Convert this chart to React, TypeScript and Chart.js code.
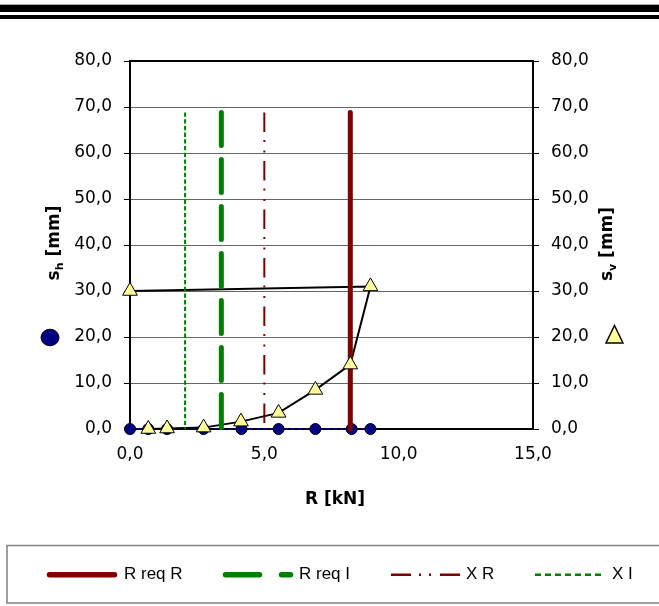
import { useEffect, useRef } from 'react';
import { Chart, registerables } from 'chart.js';
Chart.register(...registerables);

// ---- data ----
const R_H = [0, 0.68, 1.38, 2.74, 4.15, 5.53, 6.9, 8.25, 8.95];
const S_H = [0, 0, 0, 0, 0, 0, 0, 0, 0];
const R_V = [0.68, 1.38, 2.74, 4.13, 5.53, 6.9, 8.2, 8.95, 0];
const S_V = [0, 0.1, 0.3, 1.6, 3.5, 8.5, 14.0, 31.0, 30.0];
const R_REQ_R = 8.2;
const R_REQ_I = 3.4;
const X_R = 5.0;
const X_I = 2.05;
const LINE_TOP = 68.8;
const LINE_BOTTOM = 0;
const X_MIN = 0, X_MAX = 15, X_STEP = 5;
const Y_MIN = 0, Y_MAX = 80, Y_STEP = 10;
const LEGEND_LABELS = ['R req R', 'R req I', 'X R', 'X I'];
const X_TITLE = 'R [kN]';
const Y_TITLE_SUB_LEFT = 'h';
const Y_TITLE_SUB_RIGHT = 'v';

const W = 659, H = 606;
const NAVY = '#000080', DRED = '#800000', GREEN = '#008000', PALE = '#FFFF99';
const TICK_FONT = '"DejaVu Sans", sans-serif';
const fmt = (v: any) => Number(v).toFixed(1).replace('.', ',');

const pts = (xs: number[], ys: number[]) => xs.map((x, i) => ({ x, y: ys[i] }));
const vline = (x: number) => [{ x, y: LINE_TOP }, { x, y: LINE_BOTTOM }];

function drawYTitle(ctx: CanvasRenderingContext2D, cx: number, cy: number, sub: string) {
  const main = 'bold 17px "DejaVu Sans", sans-serif';
  const subF = 'bold 11px "DejaVu Sans", sans-serif';
  ctx.save();
  ctx.translate(cx, cy);
  ctx.rotate(-Math.PI / 2);
  ctx.fillStyle = '#000';
  ctx.textBaseline = 'alphabetic';
  ctx.textAlign = 'left';
  ctx.font = main;
  const w1 = ctx.measureText('s').width;
  const w3 = ctx.measureText(' [mm]').width;
  ctx.font = subF;
  const w2 = ctx.measureText(sub).width;
  let x = -(w1 + w2 + w3) / 2;
  ctx.font = main;
  ctx.fillText('s', x, 6);
  x += w1;
  ctx.font = subF;
  ctx.fillText(sub, x, 10);
  x += w2;
  ctx.font = main;
  ctx.fillText(' [mm]', x, 6);
  ctx.restore();
}

function legendLine(ctx: CanvasRenderingContext2D, x1: number, x2: number, y: number, color: string, width: number, dash: number[], cap: CanvasLineCap) {
  ctx.save();
  ctx.strokeStyle = color;
  ctx.lineWidth = width;
  ctx.lineCap = cap;
  ctx.setLineDash(dash);
  ctx.beginPath();
  ctx.moveTo(x1, y);
  ctx.lineTo(x2, y);
  ctx.stroke();
  ctx.restore();
}

const decor = {
  id: 'decor',
  beforeDatasetsDraw(chart: any) {
    const { ctx, chartArea: a } = chart;
    ctx.save();
    ctx.strokeStyle = '#000';
    ctx.lineWidth = 2;
    ctx.beginPath();
    ctx.moveTo(a.left - 1, a.top);
    ctx.lineTo(a.right + 1, a.top);
    ctx.stroke();
    ctx.restore();
  },
  afterDraw(chart: any) {
    const ctx: CanvasRenderingContext2D = chart.ctx;
    ctx.save();
    // top double rule
    ctx.fillStyle = '#b0b0b0';
    ctx.fillRect(0, 4, W, 1);
    ctx.fillStyle = '#000';
    ctx.fillRect(0, 5, W, 7);
    ctx.fillRect(0, 15, W, 4);

    // axis titles
    drawYTitle(ctx, 53, 243, Y_TITLE_SUB_LEFT);
    drawYTitle(ctx, 606, 244, Y_TITLE_SUB_RIGHT);
    ctx.font = 'bold 17px "DejaVu Sans", sans-serif';
    ctx.fillStyle = '#000';
    ctx.textAlign = 'center';
    ctx.textBaseline = 'middle';
    ctx.fillText(X_TITLE, 335, 500);

    // series keys beside axes
    ctx.beginPath();
    ctx.ellipse(50, 337.5, 9, 8.3, 0, 0, Math.PI * 2);
    ctx.fillStyle = NAVY;
    ctx.fill();
    ctx.strokeStyle = '#000';
    ctx.lineWidth = 1;
    ctx.stroke();

    ctx.beginPath();
    ctx.moveTo(614.5, 325.5);
    ctx.lineTo(623, 343);
    ctx.lineTo(606, 343);
    ctx.closePath();
    ctx.fillStyle = PALE;
    ctx.fill();
    ctx.lineWidth = 1.5;
    ctx.strokeStyle = '#000';
    ctx.stroke();

    // legend box
    ctx.strokeStyle = '#808080';
    ctx.lineWidth = 1.5;
    ctx.strokeRect(7, 545.5, 700, 57.5);
    const ly = 574.7;
    legendLine(ctx, 49.5, 114.5, ly, DRED, 5.5, [], 'round');
    legendLine(ctx, 225.5, 290.5, ly, GREEN, 5.5, [34, 22], 'round');
    legendLine(ctx, 391, 460, ly, DRED, 2.5, [20, 8, 2, 8, 2, 9], 'butt');
    legendLine(ctx, 535, 604, ly, GREEN, 2.5, [6, 4], 'butt');
    ctx.font = '17px "Liberation Sans", Arial, sans-serif';
    ctx.fillStyle = '#000';
    ctx.textAlign = 'left';
    ctx.textBaseline = 'middle';
    const tx = [124, 299, 466, 612];
    LEGEND_LABELS.forEach((t, i) => ctx.fillText(t, tx[i], ly));
    ctx.restore();
  },
};

export default function App() {
  const ref = useRef<HTMLCanvasElement>(null);
  useEffect(() => {
    const chart = new Chart(ref.current as HTMLCanvasElement, {
      type: 'scatter',
      data: {
        datasets: [
          {
            label: 's_v',
            data: pts(R_V, S_V),
            showLine: false,
            pointStyle: 'triangle',
            pointRadius: 8.5,
            pointBackgroundColor: PALE,
            pointBorderColor: '#000',
            pointBorderWidth: 1,
            order: 0,
            clip: false,
          } as any,
          {
            label: LEGEND_LABELS[0],
            data: vline(R_REQ_R),
            showLine: true,
            borderColor: DRED,
            borderWidth: 5,
            borderCapStyle: 'round',
            pointRadius: 0,
            order: 1,
            clip: false,
          },
          {
            label: LEGEND_LABELS[1],
            data: vline(R_REQ_I),
            showLine: true,
            borderColor: GREEN,
            borderWidth: 5,
            borderCapStyle: 'round',
            borderDash: [33, 14],
            pointRadius: 0,
            order: 1,
            clip: false,
          },
          {
            label: LEGEND_LABELS[2],
            data: vline(X_R),
            showLine: true,
            borderColor: DRED,
            borderWidth: 2,
            borderDash: [19.5, 8, 2, 8.5, 2, 8.5],
            pointRadius: 0,
            order: 1,
            clip: false,
          },
          {
            label: LEGEND_LABELS[3],
            data: vline(X_I),
            showLine: true,
            borderColor: GREEN,
            borderWidth: 2,
            borderDash: [4.3, 2.4],
            pointRadius: 0,
            order: 1,
            clip: false,
          },
          {
            label: 's_v line',
            data: pts(R_V, S_V),
            showLine: true,
            borderColor: '#000',
            borderWidth: 2,
            pointRadius: 0,
            order: 2,
            clip: false,
          },
          {
            label: 's_h',
            data: pts(R_H, S_H),
            showLine: true,
            borderColor: NAVY,
            borderWidth: 2,
            borderDash: [4, 3],
            pointRadius: 5.5,
            pointBackgroundColor: NAVY,
            pointBorderColor: '#000',
            pointBorderWidth: 1,
            order: 3,
            clip: false,
          } as any,
        ],
      },
      options: {
        responsive: false,
        animation: false,
        events: [],
        layout: { padding: { left: 0, right: 0, top: 61, bottom: 0 } },
        plugins: { legend: { display: false }, tooltip: { enabled: false } },
        scales: {
          x: {
            type: 'linear',
            position: 'bottom',
            min: X_MIN,
            max: X_MAX,
            ticks: { stepSize: X_STEP, callback: fmt, color: '#000', font: { family: TICK_FONT, size: 17 }, padding: 15, maxRotation: 0 },
            grid: { display: false, drawTicks: false },
            border: { color: '#000', width: 2 },
            afterFit: (s: any) => { s.height = 177; },
          },
          y: {
            type: 'linear',
            position: 'left',
            min: Y_MIN,
            max: Y_MAX,
            ticks: { stepSize: Y_STEP, callback: fmt, color: '#000', font: { family: TICK_FONT, size: 17 }, padding: 12 },
            grid: { color: '#666', lineWidth: 1, tickLength: 6, tickColor: '#000' },
            border: { color: '#000', width: 2 },
            afterFit: (s: any) => { s.width = 130; },
          },
          y2: {
            type: 'linear',
            position: 'right',
            min: Y_MIN,
            max: Y_MAX,
            ticks: { stepSize: Y_STEP, callback: fmt, color: '#000', font: { family: TICK_FONT, size: 17 }, padding: 12 },
            grid: { drawOnChartArea: false, tickLength: 6, tickColor: '#000' },
            border: { color: '#000', width: 2 },
            afterFit: (s: any) => { s.width = 126; },
          },
        },
      } as any,
      plugins: [decor],
    });
    return () => chart.destroy();
  }, []);
  return (
    <div style={{ position: 'fixed', left: 0, top: 0, width: W, height: H, background: '#fff' }}>
      <canvas ref={ref} width={W} height={H} style={{ display: 'block' }} />
    </div>
  );
}
